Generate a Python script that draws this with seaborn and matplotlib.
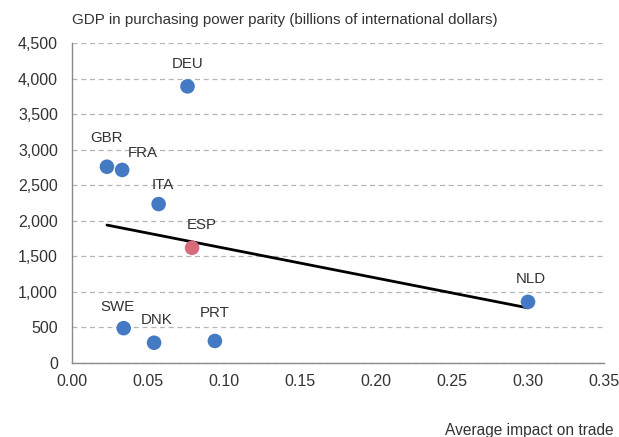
import matplotlib
matplotlib.use("Agg")
import matplotlib.pyplot as plt
from matplotlib.ticker import FuncFormatter
import seaborn as sns
import pandas as pd

# data
countries = ["DEU", "GBR", "FRA", "ITA", "ESP", "SWE", "DNK", "PRT", "NLD"]
impact = [0.076, 0.023, 0.033, 0.057, 0.079, 0.034, 0.054, 0.094, 0.300]
gdp_ppp = [3890, 2760, 2715, 2235, 1620, 490, 285, 310, 860]
highlight = ["no", "no", "no", "no", "yes", "no", "no", "no", "no"]

# trend line end points
trend_x = [0.023, 0.300]
trend_y = [1940, 775]

# label offsets (pixels) so labels don't collide
label_dx = [0, 0, 21, 4, 10, -6, 3, 0, 3]
label_dy = [22, 29, 17, 19, 23, 21, 23, 28, 23]

df = pd.DataFrame({"country": countries, "impact": impact,
                   "gdp": gdp_ppp, "highlight": highlight})

sns.set_style("white")
plt.rcParams["font.family"] = ["Liberation Sans", "DejaVu Sans"]
text_col = "#333333"
axis_col = "#8a8a8a"

fig = plt.figure(figsize=(6.19, 4.37), dpi=100)
ax = fig.add_axes([0.1163, 0.1693, 0.8595, 0.7323])

ax.plot(trend_x, trend_y, color="black", lw=2, zorder=2)
sns.scatterplot(data=df, x="impact", y="gdp", hue="highlight",
                palette={"no": "#4479c3", "yes": "#d86a7b"},
                s=110, edgecolor="none", legend=False, ax=ax, zorder=3)

for c, x, y, dx, dy in zip(countries, impact, gdp_ppp, label_dx, label_dy):
    ax.annotate(c, (x, y), xytext=(dx, dy), textcoords="offset pixels",
                ha="center", va="center", fontsize=10.8, color=text_col)

ax.set_xlim(0, 0.35)
ax.set_ylim(0, 4500)
ax.set_xticks([0, 0.05, 0.10, 0.15, 0.20, 0.25, 0.30, 0.35])
ax.set_yticks(range(0, 4501, 500))
ax.xaxis.set_major_formatter(FuncFormatter(lambda v, p: f"{v:.2f}"))
ax.yaxis.set_major_formatter(FuncFormatter(lambda v, p: f"{int(v):,}"))
ax.tick_params(axis="x", direction="in", length=5, color=axis_col,
               labelsize=11.5, labelcolor=text_col, pad=8)
ax.tick_params(axis="y", length=0, labelsize=11.5, labelcolor=text_col, pad=10)

ax.yaxis.grid(True, linestyle=(0, (4, 3)), color="#b5b5b5", lw=0.9)
ax.set_axisbelow(True)
for side in ["top", "right"]:
    ax.spines[side].set_visible(False)
for side in ["left", "bottom"]:
    ax.spines[side].set_color(axis_col)
    ax.spines[side].set_linewidth(1)

ax.set_xlabel("")
ax.set_ylabel("")
fig.text(0.1163, 0.955, "GDP in purchasing power parity (billions of international dollars)",
         ha="left", va="center", fontsize=10.9, color=text_col)
fig.text(0.991, 0.014, "Average impact on trade", ha="right", va="center",
         fontsize=11.2, color=text_col)

fig.savefig("out.png", dpi=100)
